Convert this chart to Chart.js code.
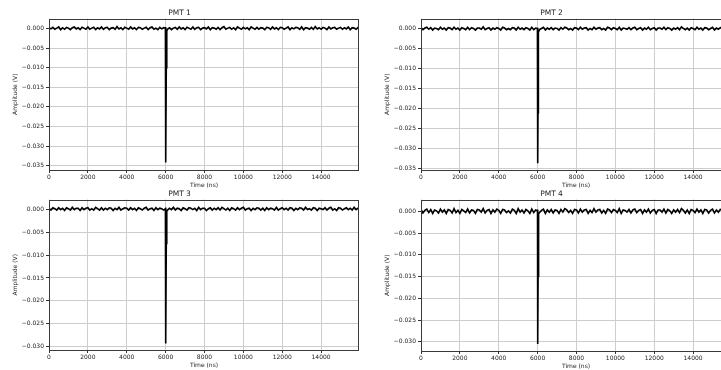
<!DOCTYPE html>
<html><head><meta charset="utf-8">
<script src="https://cdn.jsdelivr.net/npm/chart.js@4.4.1/dist/chart.umd.min.js"></script>
<style>
html,body{margin:0;padding:0;background:#fff;overflow:hidden;width:721px;height:370px;position:relative}
canvas{position:absolute}
</style></head><body>
<canvas id="c1" width="370" height="190" style="left:0px;top:0px"></canvas>
<canvas id="c2" width="370" height="190" style="left:372px;top:0px"></canvas>
<canvas id="c3" width="370" height="189" style="left:0px;top:181px"></canvas>
<canvas id="c4" width="370" height="190" style="left:372px;top:181px"></canvas>
<script>
// Sample times (ns) of the baseline readout
const sampleTimes = [0,100,200,300,400,500,600,700,800,900,1000,1100,1200,1300,1400,1500,1600,1700,1800,1900,
2000,2100,2200,2300,2400,2500,2600,2700,2800,2900,3000,3100,3200,3300,3400,3500,3600,3700,3800,3900,
4000,4100,4200,4300,4400,4500,4600,4700,4800,4900,5000,5100,5200,5300,5400,5500,5600,5700,5800,5900,
6000,6100,6200,6300,6400,6500,6600,6700,6800,6900,7000,7100,7200,7300,7400,7500,7600,7700,7800,7900,
8000,8100,8200,8300,8400,8500,8600,8700,8800,8900,9000,9100,9200,9300,9400,9500,9600,9700,9800,9900,
10000,10100,10200,10300,10400,10500,10600,10700,10800,10900,11000,11100,11200,11300,11400,11500,11600,11700,11800,11900,
12000,12100,12200,12300,12400,12500,12600,12700,12800,12900,13000,13100,13200,13300,13400,13500,13600,13700,13800,13900,
14000,14100,14200,14300,14400,14500,14600,14700,14800,14900,15000,15100,15200,15300,15400,15500,15600,15700,15800,15900,
15950];

// Baseline amplitudes (V)
const noise1 = [0.0002,-0.0001,0.0003,-0.0002,0.0001,0.0004,-0.0003,0.0002,-0.0002,0.0003,
0.0001,-0.0003,0.0002,0.0004,-0.0001,0.0002,-0.0003,0.0003,0.0001,-0.0002,
0.0004,-0.0002,0.0001,0.0003,-0.0003,0.0002,-0.0001,0.0004,-0.0002,0.0002,
0.0003,-0.0003,0.0001,0.0002,-0.0002,0.0005,-0.0001,0.0002,-0.0003,0.0003,
0.0001,-0.0002,0.0004,-0.0001,0.0002,-0.0003,0.0003,0.0002,-0.0002,0.0001,
0.0003,-0.0003,0.0002,0.0004,-0.0002,0.0001,-0.0003,0.0003,-0.0001,0.0002,
0.0004,-0.0002,0.0002,-0.0003,0.0001,0.0003,-0.0002,0.0004,-0.0001,0.0002,
-0.0003,0.0003,0.0001,-0.0002,0.0004,-0.0002,0.0002,0.0003,-0.0003,0.0001,
0.0002,-0.0001,0.0004,-0.0003,0.0002,0.0001,-0.0002,0.0003,-0.0003,0.0002,
0.0005,-0.0002,0.0001,0.0003,-0.0002,0.0002,-0.0003,0.0004,0.0001,-0.0002,
0.0003,-0.0001,0.0002,-0.0003,0.0004,0.0001,-0.0002,0.0003,-0.0002,0.0002,
0.0001,-0.0003,0.0003,0.0002,-0.0002,0.0004,-0.0001,0.0002,-0.0003,0.0003,
0.0002,-0.0002,0.0001,0.0004,-0.0003,0.0002,-0.0001,0.0003,0.0002,-0.0002,
0.0004,-0.0003,0.0002,0.0001,-0.0002,0.0003,-0.0002,0.0005,-0.0001,0.0002,
-0.0002,0.0003,0.0001,-0.0003,0.0004,-0.0001,0.0002,0.0003,-0.0002,0.0001,
0.0003,-0.0002,0.0002,-0.0001,0.0004,-0.0003,0.0002,0.0001,-0.0002,0.0003,
0.0002];
const noise2 = [0.0003,-0.0002,0.0002,0.0004,-0.0001,0.0003,-0.0003,0.0002,0.0001,-0.0002,
0.0004,-0.0001,0.0002,-0.0003,0.0003,0.0002,-0.0002,0.0004,-0.0001,0.0002,
-0.0003,0.0003,0.0001,-0.0002,0.0004,-0.0002,0.0003,0.0001,-0.0003,0.0002,
0.0002,-0.0001,0.0005,-0.0002,0.0001,0.0003,-0.0003,0.0002,-0.0001,0.0003,
0.0001,-0.0003,0.0004,0.0002,-0.0002,0.0001,-0.0002,0.0003,0.0002,-0.0003,
0.0004,-0.0001,0.0002,-0.0002,0.0003,0.0001,-0.0003,0.0004,-0.0002,0.0002,
0.0003,-0.0002,0.0001,0.0004,-0.0003,0.0002,-0.0001,0.0003,-0.0002,0.0002,
0.0001,-0.0003,0.0003,-0.0001,0.0004,0.0002,-0.0002,0.0001,-0.0003,0.0003,
0.0002,-0.0002,0.0004,-0.0001,0.0002,0.0003,-0.0003,0.0001,-0.0002,0.0004,
-0.0001,0.0002,0.0003,-0.0002,0.0001,-0.0003,0.0004,0.0002,-0.0002,0.0003,
0.0001,-0.0002,0.0004,-0.0003,0.0002,0.0001,-0.0001,0.0003,-0.0002,0.0002,
0.0004,-0.0002,0.0001,0.0003,-0.0003,0.0002,-0.0001,0.0004,-0.0002,0.0001,
0.0003,-0.0003,0.0002,0.0002,-0.0001,0.0004,-0.0002,0.0003,0.0001,-0.0003,
0.0002,-0.0001,0.0003,-0.0002,0.0005,0.0001,-0.0002,0.0002,-0.0003,0.0003,
0.0001,-0.0002,0.0004,-0.0001,0.0002,-0.0003,0.0003,0.0002,-0.0002,0.0001,
0.0004,-0.0003,0.0002,-0.0001,0.0003,0.0002,-0.0002,0.0004,-0.0001,0.0002,
0.0003];
const noise3 = [0.0002,-0.0002,0.0003,0.0001,-0.0002,0.0003,-0.0001,0.0002,-0.0003,0.0003,
0.0001,-0.0002,0.0004,-0.0001,0.0002,0.0002,-0.0003,0.0003,-0.0001,0.0002,
0.0003,-0.0002,0.0001,-0.0002,0.0004,0.0001,-0.0002,0.0003,-0.0002,0.0002,
-0.0001,0.0003,0.0002,-0.0003,0.0002,-0.0001,0.0004,-0.0002,0.0001,0.0003,
0.0002,-0.0002,0.0003,-0.0001,0.0002,-0.0003,0.0003,0.0001,-0.0002,0.0002,
0.0004,-0.0002,0.0001,0.0002,-0.0003,0.0003,-0.0001,0.0002,0.0001,-0.0002,
0.0003,-0.0002,0.0002,-0.0001,0.0004,-0.0002,0.0002,0.0001,-0.0003,0.0003,
0.0001,-0.0002,0.0003,0.0002,-0.0001,0.0002,-0.0003,0.0004,-0.0001,0.0002,
0.0002,-0.0003,0.0001,0.0003,-0.0002,0.0002,-0.0001,0.0003,-0.0002,0.0004,
0.0001,-0.0002,0.0002,-0.0003,0.0003,0.0001,-0.0002,0.0003,-0.0001,0.0002,
0.0004,-0.0002,0.0001,0.0002,-0.0003,0.0002,-0.0001,0.0003,0.0002,-0.0002,
0.0002,-0.0003,0.0003,-0.0001,0.0002,0.0001,-0.0002,0.0004,-0.0002,0.0001,
0.0003,-0.0001,0.0002,-0.0002,0.0003,0.0002,-0.0003,0.0002,-0.0001,0.0003,
0.0002,-0.0002,0.0004,-0.0001,0.0001,-0.0002,0.0003,0.0002,-0.0003,0.0002,
0.0001,-0.0001,0.0003,-0.0002,0.0002,0.0004,-0.0002,0.0001,-0.0003,0.0003,
0.0002,-0.0002,0.0001,0.0003,-0.0001,0.0002,-0.0002,0.0004,-0.0001,0.0002,
0.0003];
const noise4 = [0.0004,-0.0004,0.0002,0.0005,-0.0003,0.0004,-0.0005,0.0003,0.0001,-0.0004,
0.0005,-0.0002,0.0003,-0.0005,0.0004,0.0002,-0.0004,0.0006,-0.0003,0.0002,
-0.0005,0.0004,0.0001,-0.0003,0.0005,-0.0004,0.0003,0.0002,-0.0005,0.0004,
0.0003,-0.0002,0.0006,-0.0004,0.0002,0.0004,-0.0005,0.0003,-0.0002,0.0005,
0.0002,-0.0005,0.0004,0.0003,-0.0003,0.0001,-0.0004,0.0005,0.0002,-0.0005,
0.0006,-0.0002,0.0003,-0.0004,0.0004,0.0001,-0.0005,0.0005,-0.0003,0.0003,
0.0004,-0.0003,0.0002,0.0005,-0.0005,0.0003,-0.0002,0.0004,-0.0004,0.0003,
0.0002,-0.0005,0.0004,-0.0002,0.0006,0.0003,-0.0003,0.0002,-0.0005,0.0004,
0.0003,-0.0004,0.0005,-0.0002,0.0003,0.0004,-0.0005,0.0002,-0.0003,0.0006,
-0.0002,0.0003,0.0004,-0.0004,0.0002,-0.0005,0.0005,0.0003,-0.0003,0.0004,
0.0002,-0.0003,0.0006,-0.0005,0.0003,0.0002,-0.0002,0.0004,-0.0004,0.0003,
0.0005,-0.0003,0.0002,0.0004,-0.0005,0.0003,-0.0002,0.0005,-0.0004,0.0002,
0.0004,-0.0005,0.0003,0.0003,-0.0002,0.0005,-0.0004,0.0004,0.0001,-0.0005,
0.0003,-0.0002,0.0004,-0.0003,0.0006,0.0002,-0.0004,0.0003,-0.0005,0.0004,
0.0002,-0.0003,0.0005,-0.0002,0.0003,-0.0005,0.0004,0.0003,-0.0004,0.0002,
0.0005,-0.0004,0.0003,-0.0002,0.0004,0.0003,-0.0003,0.0005,-0.0002,0.0003,
0.0004];

// Pulse samples (ns, V)
const spikeTimes1 = [5990, 6010, 6035, 6060];
const spikeValues1 = [0.0001, -0.0342, -0.0100, -0.0006];
const spikeTimes2 = [5990, 6010, 6020, 6030, 6050];
const spikeValues2 = [0.0001, -0.0337, -0.0210, -0.0160, -0.0008];
const spikeTimes3 = [5990, 6010, 6035, 6060];
const spikeValues3 = [0.0001, -0.0293, -0.0075, -0.0005];
const spikeTimes4 = [5995, 6010, 6025, 6050];
const spikeValues4 = [0.0001, -0.0305, -0.0150, -0.0006];

const panelTitles = ['PMT 1', 'PMT 2', 'PMT 3', 'PMT 4'];
const yMins = [-0.0361, -0.0354, -0.0307, -0.0321];
const yMaxs = [0.00255, 0.0026, 0.0021, 0.0027];
const xMin = 0, xMax = 15950;
const xTickValues = [0, 2000, 4000, 6000, 8000, 10000, 12000, 14000];
const yTickValuesTop = [0, -0.005, -0.010, -0.015, -0.020, -0.025, -0.030, -0.035];
const yTickValuesBottom = [0, -0.005, -0.010, -0.015, -0.020, -0.025, -0.030];
const xLabel = 'Time (ns)', yLabel = 'Amplitude (V)';

const FONT = 'DejaVu Sans';
const TXT = '#222';

const framePlugin = {
  id: 'frame',
  afterDraw(chart) {
    const a = chart.chartArea, ctx = chart.ctx;
    ctx.save();
    ctx.strokeStyle = '#3a3a3a';
    ctx.lineWidth = 1;
    ctx.strokeRect(Math.round(a.left) + 0.5, Math.round(a.top) + 0.5,
                   Math.round(a.right - a.left) - 1, Math.round(a.bottom - a.top) - 1);
    ctx.restore();
  }
};

function fmtY(v) {
  const s = Math.abs(v).toFixed(3);
  return (v < -1e-9 ? '\u2212' : '') + s;
}

function makeChart(id, title, noise, sT, sV, ymin, ymax, yTicks) {
  const pts = sampleTimes.map((t, i) => ({x: t, y: noise[i]}))
    .concat(sT.map((t, i) => ({x: t, y: sV[i]})))
    .sort((a, b) => a.x - b.x);
  new Chart(document.getElementById(id), {
    type: 'line',
    data: {datasets: [{data: pts, borderColor: '#000', borderWidth: 1.6,
      pointRadius: 0, tension: 0, fill: false}]},
    plugins: [framePlugin],
    options: {
      responsive: false, animation: false, events: [],
      layout: {padding: {left: 0, right: 11, top: 0, bottom: 0}},
      plugins: {
        legend: {display: false}, tooltip: {enabled: false},
        title: {display: true, text: title, color: TXT,
          font: {family: FONT, size: 7.5, weight: 'normal'}, padding: {top: 8.5, bottom: 1}}
      },
      scales: {
        x: {type: 'linear', min: xMin, max: xMax,
          afterBuildTicks: s => { s.ticks = xTickValues.map(v => ({value: v})); },
          afterFit: s => { s.height = 20; },
          border: {display: false},
          grid: {color: '#cdcdcd', lineWidth: 1, tickColor: '#333', tickLength: 3},
          ticks: {autoSkip: false, maxRotation: 0,
            color: TXT, padding: 1, font: {family: FONT, size: 6},
            callback: v => String(v)},
          title: {display: true, text: xLabel, color: TXT, font: {family: FONT, size: 6},
            padding: {top: 0, bottom: 1}}
        },
        y: {type: 'linear', min: ymin, max: ymax,
          afterBuildTicks: s => { s.ticks = yTicks.map(v => ({value: v})); },
          afterFit: s => { s.width = 49; },
          border: {display: false},
          grid: {color: '#cdcdcd', lineWidth: 1, tickColor: '#333', tickLength: 3},
          ticks: {autoSkip: false,
            color: TXT, padding: 2, font: {family: FONT, size: 6},
            callback: v => fmtY(v)},
          title: {display: true, text: yLabel, color: TXT, font: {family: FONT, size: 6},
            padding: {top: 11.4, bottom: 0}}
        }
      }
    }
  });
}

makeChart('c1', panelTitles[0], noise1, spikeTimes1, spikeValues1, yMins[0], yMaxs[0], yTickValuesTop);
makeChart('c2', panelTitles[1], noise2, spikeTimes2, spikeValues2, yMins[1], yMaxs[1], yTickValuesTop);
makeChart('c3', panelTitles[2], noise3, spikeTimes3, spikeValues3, yMins[2], yMaxs[2], yTickValuesBottom);
makeChart('c4', panelTitles[3], noise4, spikeTimes4, spikeValues4, yMins[3], yMaxs[3], yTickValuesBottom);
</script>
</body></html>
